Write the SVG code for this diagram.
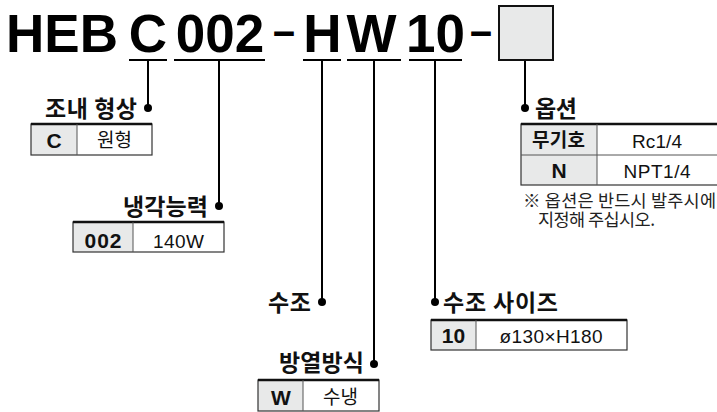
<svg xmlns="http://www.w3.org/2000/svg" width="717" height="412" viewBox="0 0 717 412">
<style>
.hd{font-family:"Liberation Sans",Arial,sans-serif;font-weight:bold;font-size:53px;fill:#000}
.dash{font-family:"Liberation Sans",Arial,sans-serif;font-weight:bold;font-size:44px;fill:#000}
.lb{font-family:"Noto Sans CJK KR",sans-serif;font-weight:bold;font-size:23px;fill:#111}
.kr{font-family:"Noto Sans CJK KR",sans-serif;font-size:19px;fill:#111}
.kb{font-family:"Noto Sans CJK KR",sans-serif;font-weight:bold;font-size:19px;fill:#111}
.en{font-family:"Liberation Sans",Arial,sans-serif;font-size:19px;fill:#111}
.eb{font-family:"Liberation Sans",Arial,sans-serif;font-weight:bold;font-size:21px;fill:#111}
.nt{font-family:"Noto Sans CJK KR",sans-serif;font-size:17.5px;fill:#222}
.ln{stroke:#000;stroke-width:2;fill:none}
.dot{fill:#000}
.cellh{fill:#e8e9e9;stroke:none}
.cell{fill:#fff;stroke:none}
.bd{fill:none;stroke:#333;stroke-width:1.2}
.top{stroke:#111;stroke-width:2.5}
.div{stroke:#555;stroke-width:1}
</style>
<g id="header">
  <text class="hd" x="6" y="52">HEB</text>
  <text class="hd" x="148" y="52" text-anchor="middle">C</text>
  <text class="hd" x="220" y="52" text-anchor="middle">002</text>
  <text class="dash" x="273" y="46" textLength="22" lengthAdjust="spacingAndGlyphs">–</text>
  <text class="hd" x="322.5" y="52" text-anchor="middle">H</text>
  <text class="hd" x="371.5" y="52" text-anchor="middle">W</text>
  <text class="hd" x="435.5" y="52" text-anchor="middle">10</text>
  <text class="dash" x="470" y="46" textLength="22" lengthAdjust="spacingAndGlyphs">–</text>
  <rect x="499" y="6" width="54" height="54" fill="#e8e9e9" stroke="#111" stroke-width="2"/>
</g>
<g id="connectors">
  <path class="ln" d="M129 60H167M174 60H265M303 60H341M347 60H401M409 60H462"/>
  <path class="ln" d="M148 60V108M219 60V206M322 60V302M374 60V364M435 60V302M525 61V108"/>
  <circle class="dot" cx="148" cy="108" r="4"/>
  <circle class="dot" cx="219" cy="206" r="4"/>
  <circle class="dot" cx="322" cy="302" r="4"/>
  <circle class="dot" cx="374" cy="364" r="4"/>
  <circle class="dot" cx="435" cy="302" r="4"/>
  <circle class="dot" cx="525" cy="108" r="4"/>
</g>
<g id="shape">
  <text class="lb" x="45" y="117" textLength="92">조내 형상</text>
  <rect class="cellh" x="31" y="124" width="46" height="31"/>
  <rect class="cell" x="77" y="124" width="75" height="31"/>
  <rect class="bd" x="31" y="124" width="121" height="31"/>
  <line class="top" x1="31" y1="124" x2="152" y2="124"/>
  <line class="div" x1="77" y1="124" x2="77" y2="155"/>
  <text class="eb" x="54" y="148" text-anchor="middle">C</text>
  <text class="kr" x="97" y="147" textLength="35">원형</text>
</g>
<g id="capacity">
  <text class="lb" x="123" y="215" textLength="85">냉각능력</text>
  <rect class="cellh" x="73" y="222" width="60" height="30"/>
  <rect class="cell" x="133" y="222" width="91" height="30"/>
  <rect class="bd" x="73" y="222" width="151" height="30"/>
  <line class="top" x1="73" y1="222" x2="224" y2="222"/>
  <line class="div" x1="133" y1="222" x2="133" y2="252"/>
  <text class="eb" x="103" y="248" text-anchor="middle" textLength="37">002</text>
  <text class="en" x="178.5" y="248" text-anchor="middle" textLength="51">140W</text>
</g>
<g id="tank">
  <text class="lb" x="268" y="311" textLength="43">수조</text>
</g>
<g id="cooling">
  <text class="lb" x="279" y="371" textLength="85">방열방식</text>
  <rect class="cellh" x="258" y="380" width="45" height="31"/>
  <rect class="cell" x="303" y="380" width="76" height="31"/>
  <rect class="bd" x="258" y="380" width="121" height="31"/>
  <line class="top" x1="258" y1="380" x2="379" y2="380"/>
  <line class="div" x1="303" y1="380" x2="303" y2="411"/>
  <text class="eb" x="281" y="405" text-anchor="middle">W</text>
  <text class="kr" x="323" y="404" textLength="35">수냉</text>
</g>
<g id="tanksize">
  <text class="lb" x="443" y="311" textLength="115">수조 사이즈</text>
  <rect class="cellh" x="431" y="320" width="45" height="30"/>
  <rect class="cell" x="476" y="320" width="151" height="30"/>
  <rect class="bd" x="431" y="320" width="196" height="30"/>
  <line class="top" x1="431" y1="320" x2="627" y2="320"/>
  <line class="div" x1="476" y1="320" x2="476" y2="350"/>
  <text class="eb" x="453.5" y="343" text-anchor="middle">10</text>
  <text class="en" x="551" y="343" text-anchor="middle" textLength="103">ø130×H180</text>
</g>
<g id="option">
  <text class="lb" x="535" y="117" textLength="42">옵션</text>
  <rect class="cellh" x="521" y="124" width="76" height="61"/>
  <rect class="cell" x="597" y="124" width="122" height="61"/>
  <rect class="bd" x="521" y="124" width="198" height="61"/>
  <line class="top" x1="521" y1="124" x2="719" y2="124"/>
  <line class="div" x1="597" y1="124" x2="597" y2="185"/>
  <line class="div" x1="521" y1="155" x2="719" y2="155"/>
  <text class="kb" x="532" y="147" textLength="53">무기호</text>
  <text class="en" x="657" y="148" text-anchor="middle" textLength="50">Rc1/4</text>
  <text class="eb" x="559" y="178" text-anchor="middle">N</text>
  <text class="en" x="657" y="178" text-anchor="middle" textLength="67">NPT1/4</text>
  <text class="nt" x="523" y="207" textLength="193">※ 옵션은 반드시 발주시에</text>
  <text class="nt" x="538" y="226" textLength="117">지정해 주십시오.</text>
</g>
</svg>
